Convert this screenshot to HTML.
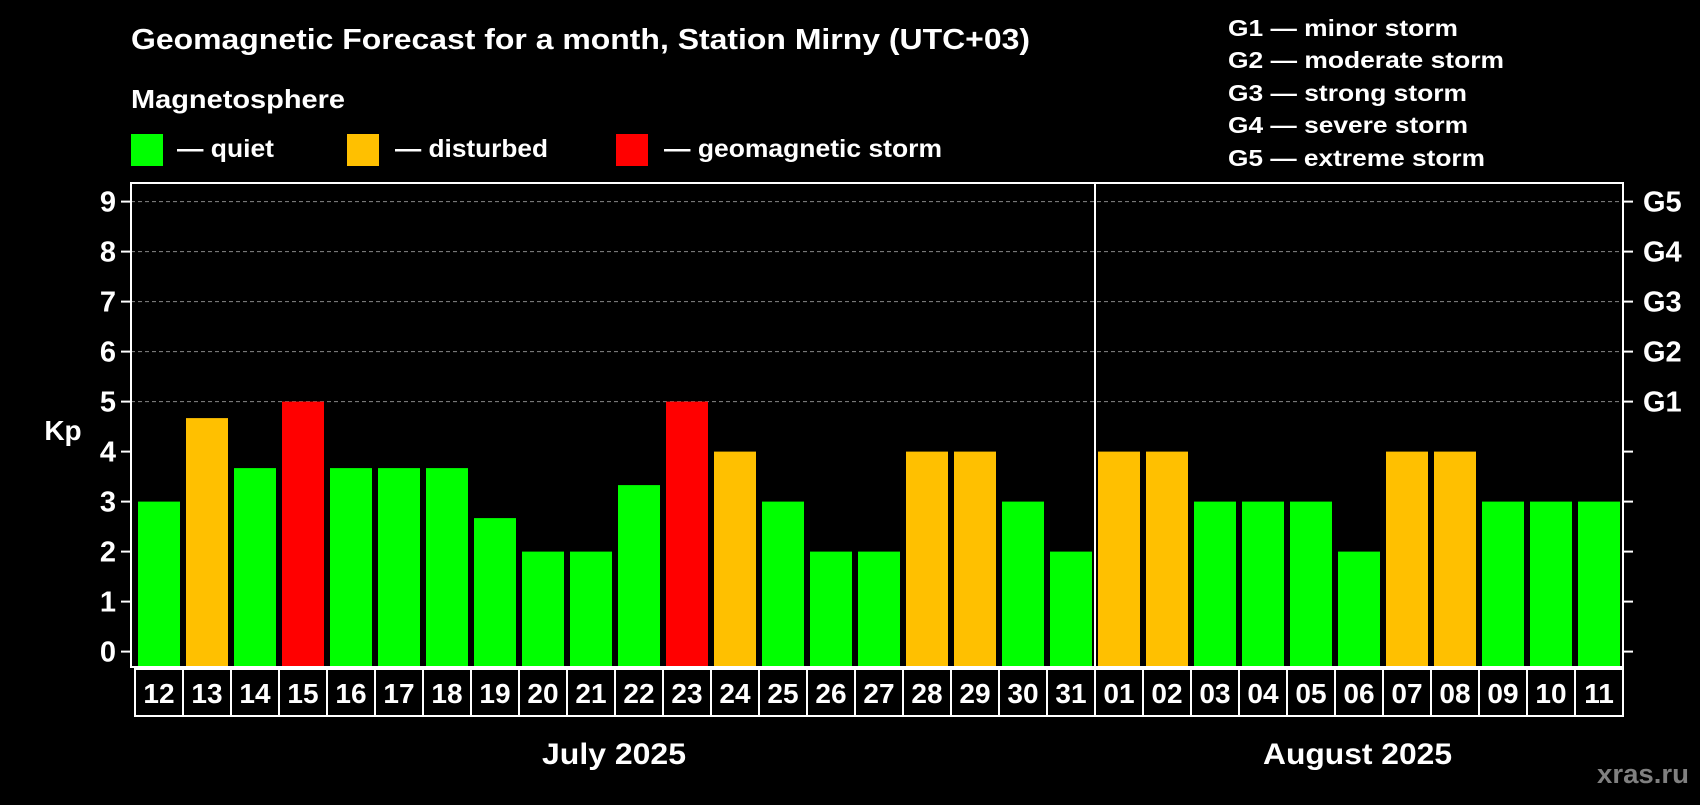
<!DOCTYPE html>
<html><head><meta charset="utf-8"><style>
html,body{margin:0;padding:0;background:#000;}
svg text{font-family:"Liberation Sans",Arial,sans-serif;font-weight:bold;fill:#fff;}
</style></head><body>
<svg id="chart" width="1700" height="800" xmlns="http://www.w3.org/2000/svg">
<rect width="1700" height="800" fill="#000"/>
<text x="131" y="49" font-size="29" textLength="899" lengthAdjust="spacingAndGlyphs">Geomagnetic Forecast for a month, Station Mirny (UTC+03)</text>
<text x="131" y="108" font-size="26" textLength="214" lengthAdjust="spacingAndGlyphs">Magnetosphere</text>
<g><rect x="131" y="134" width="32" height="32" fill="#00ff00"/><text x="177" y="157" font-size="25" textLength="97" lengthAdjust="spacingAndGlyphs">— quiet</text></g>
<g><rect x="347" y="134" width="32" height="32" fill="#ffc000"/><text x="395" y="157" font-size="25" textLength="153" lengthAdjust="spacingAndGlyphs">— disturbed</text></g>
<g><rect x="616" y="134" width="32" height="32" fill="#ff0000"/><text x="664" y="157" font-size="25" textLength="278" lengthAdjust="spacingAndGlyphs">— geomagnetic storm</text></g>
<g>
<text x="1228" y="36" font-size="23" textLength="230" lengthAdjust="spacingAndGlyphs">G1 — minor storm</text>
<text x="1228" y="68" font-size="23" textLength="276" lengthAdjust="spacingAndGlyphs">G2 — moderate storm</text>
<text x="1228" y="101" font-size="23" textLength="239" lengthAdjust="spacingAndGlyphs">G3 — strong storm</text>
<text x="1228" y="133" font-size="23" textLength="240" lengthAdjust="spacingAndGlyphs">G4 — severe storm</text>
<text x="1228" y="166" font-size="23" textLength="257" lengthAdjust="spacingAndGlyphs">G5 — extreme storm</text>
</g>
<g id="grid"></g><g id="bars"></g><g id="axes"></g>
<text x="63" y="440" font-size="28" text-anchor="middle">Kp</text>
<text x="542" y="764" font-size="30" textLength="144" lengthAdjust="spacingAndGlyphs">July 2025</text>
<text x="1263" y="764" font-size="30" textLength="189" lengthAdjust="spacingAndGlyphs">August 2025</text>
<text x="1597" y="783" font-size="27" textLength="92" lengthAdjust="spacingAndGlyphs" style="fill:#808080">xras.ru</text>
</svg>
<script>
const days = ["12","13","14","15","16","17","18","19","20","21","22","23","24","25","26","27","28","29","30","31","01","02","03","04","05","06","07","08","09","10","11"];
const kpValues = [3,4.67,3.67,5,3.67,3.67,3.67,2.67,2,2,3.33,5,4,3,2,2,4,4,3,2,4,4,3,3,3,2,4,4,3,3,3];
const yTicks = [0,1,2,3,4,5,6,7,8,9];
const gLabels = ["","","","","","G1","G2","G3","G4","G5"];
const NS="http://www.w3.org/2000/svg";
const L=131,R=1623,T=183,B=667,X0=135,STEP=48;
function y(v){return 651.6-50*v;}
function x(i){return X0+STEP*i;}
function mk(tag,attrs,parent){const e=document.createElementNS(NS,tag);for(const k in attrs)e.setAttribute(k,attrs[k]);parent.appendChild(e);return e;}
const grid=document.getElementById('grid'),bars=document.getElementById('bars'),axes=document.getElementById('axes');
yTicks.forEach((t,i)=>{
  if(t>=5){const g=mk('line',{x1:L,x2:R,y1:y(t),y2:y(t),stroke:'#888','stroke-dasharray':'4,3','stroke-width':1},grid);
    
    }
  const tk=mk('line',{x1:L-10,x2:L,y1:y(t),y2:y(t),stroke:'#fff','stroke-width':2},axes);
  
  
  const tr=mk('line',{x1:R,x2:R+10,y1:y(t),y2:y(t),stroke:'#fff','stroke-width':2},axes);
  
  
  const lb=mk('text',{x:108,y:y(t)+10,'font-size':29,'text-anchor':'middle'},axes);lb.textContent=t;
  
  
  if(gLabels[i]){const gl=mk('text',{x:1643,y:y(t)+10,'font-size':29},axes);gl.textContent=gLabels[i];
    
    }
});
kpValues.forEach((v,i)=>{
  const col=v>=5?'#ff0000':(v>=4?'#ffc000':'#00ff00');
  const r=mk('rect',{x:x(i)+3,y:y(v),width:42,height:B-y(v),fill:col},bars);
  
  
  const c=mk('rect',{x:x(i),y:669,width:STEP,height:47,fill:'none',stroke:'#fff','stroke-width':2},axes);
  
  
  const d=mk('text',{x:x(i)+24,y:703,'font-size':28,'text-anchor':'middle'},axes);d.textContent=days[i];
  
  
});
const fr=mk('rect',{x:L,y:T,width:R-L,height:B-T,fill:'none',stroke:'#fff','stroke-width':2},axes);


const dv=mk('line',{x1:x(20),x2:x(20),y1:T,y2:B,stroke:'#fff','stroke-width':2},axes);


</script>
</body></html>
